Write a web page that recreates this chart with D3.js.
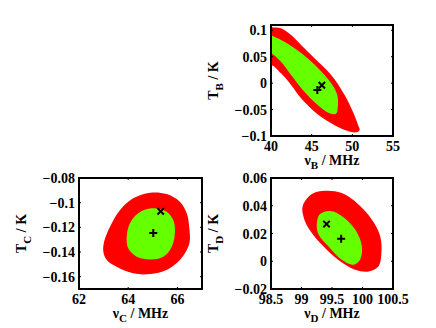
<!DOCTYPE html>
<html>
<head>
<meta charset="utf-8">
<script src="https://cdn.jsdelivr.net/npm/d3@7"></script>
<style>
  body { margin: 0; background: #fff; }
  svg { display: block; }
  text { font-family: "Liberation Serif", "Times New Roman", serif; font-weight: bold; fill: #000; }
</style>
</head>
<body>
<div id="chart"></div>
<script>
// confidence regions, outlines in data units [nu (MHz), T (K)]
const redB = [[40, 0.1068], [41.23, 0.1037], [42.47, 0.091], [43.7, 0.072], [45.35, 0.047], [47.4, 0.0154],
  [49.05, -0.0224], [50.07, -0.054], [50.7, -0.079], [50.9, -0.0886], [50.5, -0.093], [49.05, -0.0886],
  [47.4, -0.076], [45.35, -0.054], [43.7, -0.0287], [42.47, -0.0035], [41.23, 0.0186], [40, 0.034],
  [39, 0.02], [39, 0.12]];
const greenB = [[40, 0.091], [41.23, 0.0816], [42.9, 0.066], [44.5, 0.047], [46.2, 0.0216], [47.4, 0.0],
  [48.15, -0.0224], [48.2, -0.0476], [48.0, -0.058], [47.2, -0.057], [45.75, -0.0414], [44.1, -0.0162],
  [42.47, 0.0154], [41.23, 0.0406], [40, 0.0565], [39, 0.06], [39, 0.1]];
const redC = [[64.89, -0.0919], [65.56, -0.093], [66.1, -0.0992], [66.38, -0.1086], [66.48, -0.1195],
  [66.5, -0.1317], [66.38, -0.1384], [66.1, -0.1465], [65.56, -0.1546], [64.89, -0.1579], [64.2, -0.1573],
  [63.53, -0.152], [63.13, -0.1465], [62.99, -0.1398], [63.02, -0.1317], [63.26, -0.1195], [63.67, -0.106],
  [64.2, -0.0965]];
const greenC = [[64.96, -0.1046], [65.56, -0.1073], [65.83, -0.114], [65.9, -0.1235], [65.77, -0.1357],
  [65.43, -0.1438], [64.89, -0.146], [64.35, -0.1438], [64.0, -0.137], [63.94, -0.1276], [64.07, -0.1167],
  [64.41, -0.1086]];
const redD = [[99.02, 0.0399], [99.17, 0.0484], [99.39, 0.0508], [99.66, 0.0491], [99.93, 0.0411],
  [100.15, 0.0302], [100.29, 0.018], [100.31, 0.006], [100.26, -0.0038], [100.1, -0.0074], [99.88, -0.0062],
  [99.6, 0.0011], [99.33, 0.012], [99.11, 0.0241], [99.03, 0.0326]];
const greenD = [[99.25, 0.0265], [99.3, 0.0338], [99.47, 0.0362], [99.66, 0.0326], [99.88, 0.0229],
  [99.99, 0.0108], [99.96, 0.0011], [99.85, -0.0025], [99.66, 0.0011], [99.44, 0.0108], [99.28, 0.0193]];

// best fit (+) and true value (x)
const plusB = [45.7, -0.013], crossB = [46.25, -0.004];
const plusC = [65.02, -0.1245], crossC = [65.32, -0.107];
const plusD = [99.65, 0.0162], crossD = [99.41, 0.0268];

const xTicksB = [40, 45, 50, 55], yTicksB = [-0.1, -0.05, 0, 0.05, 0.1];
const xTicksC = [62, 64, 66], yTicksC = [-0.16, -0.14, -0.12, -0.1, -0.08];
const xTicksD = [98.5, 99, 99.5, 100, 100.5], yTicksD = [-0.02, 0, 0.02, 0.04, 0.06];

const svg = d3.select('#chart').append('svg')
  .attr('width', 436)
  .attr('height', 328);

function fmt(d) {
  return String(+d.toFixed(4)).replace('-', '\u2212');
}

function renderPanel(id, box, xDomain, yDomain, xTicks, yTicks, red, green, plus, cross, sub) {
  const x = d3.scaleLinear().domain(xDomain).range([box.left, box.right]);
  const y = d3.scaleLinear().domain(yDomain).range([box.bottom, box.top]);

  svg.append('clipPath').attr('id', 'clip' + id)
    .append('rect')
    .attr('x', box.left).attr('y', box.top)
    .attr('width', box.right - box.left).attr('height', box.bottom - box.top);

  const line = d3.line()
    .x(d => x(d[0]))
    .y(d => y(d[1]))
    .curve(d3.curveCatmullRomClosed.alpha(0.5));

  const g = svg.append('g').attr('clip-path', `url(#clip${id})`);
  g.append('path').attr('d', line(red)).style('fill', '#ff0000');
  g.append('path').attr('d', line(green)).style('fill', '#66ff00');

  // markers
  const s = 4;
  g.append('path')
    .attr('d', `M${x(plus[0]) - s},${y(plus[1])}h${2 * s}M${x(plus[0])},${y(plus[1]) - s}v${2 * s}`)
    .style('stroke', '#000').style('stroke-width', 2).style('fill', 'none');
  const c = 3.2;
  g.append('path')
    .attr('d', `M${x(cross[0]) - c},${y(cross[1]) - c}l${2 * c},${2 * c}M${x(cross[0]) - c},${y(cross[1]) + c}l${2 * c},${-2 * c}`)
    .style('stroke', '#000').style('stroke-width', 2).style('fill', 'none');

  // ticks pointing inwards
  const tk = svg.append('g').style('stroke', '#000').style('stroke-width', 1);
  xTicks.forEach(t => {
    tk.append('line').attr('x1', x(t)).attr('x2', x(t)).attr('y1', box.bottom).attr('y2', box.bottom - 2);
    tk.append('line').attr('x1', x(t)).attr('x2', x(t)).attr('y1', box.top).attr('y2', box.top + 2);
  });
  yTicks.forEach(t => {
    tk.append('line').attr('y1', y(t)).attr('y2', y(t)).attr('x1', box.left).attr('x2', box.left + 2);
    tk.append('line').attr('y1', y(t)).attr('y2', y(t)).attr('x1', box.right).attr('x2', box.right - 2);
  });

  svg.append('rect')
    .attr('x', box.left).attr('y', box.top)
    .attr('width', box.right - box.left).attr('height', box.bottom - box.top)
    .style('fill', 'none').style('stroke', '#000').style('stroke-width', 2);

  svg.append('g').selectAll('text').data(xTicks).join('text')
    .attr('x', d => x(d))
    .attr('y', box.bottom + 15)
    .attr('text-anchor', 'middle')
    .style('font-size', '14px')
    .text(fmt);

  svg.append('g').selectAll('text').data(yTicks).join('text')
    .attr('x', box.left - 4)
    .attr('y', d => y(d) + 5)
    .attr('text-anchor', 'end')
    .style('font-size', '14px')
    .text(fmt);

  // axis titles
  const xl = svg.append('text')
    .attr('x', (box.left + box.right) / 2)
    .attr('y', box.bottom + 29)
    .attr('text-anchor', 'middle')
    .style('font-size', '14px');
  xl.append('tspan').text('\u03bd');
  xl.append('tspan').attr('dy', 4).style('font-size', '11px').text(sub);
  xl.append('tspan').attr('dy', -4).text(' / MHz');

  const cy = (box.top + box.bottom) / 2;
  const yl = svg.append('text')
    .attr('transform', `translate(${box.left - 53},${cy}) rotate(-90)`)
    .attr('text-anchor', 'middle')
    .style('font-size', '14px');
  yl.append('tspan').text('T');
  yl.append('tspan').attr('dy', 5).style('font-size', '11px').text(sub);
  yl.append('tspan').attr('dy', -5).text(' / K');
}

renderPanel('B', {left: 271, right: 393, top: 25, bottom: 136}, [40, 55], [-0.1, 0.11],
  xTicksB, yTicksB, redB, greenB, plusB, crossB, 'B');
renderPanel('C', {left: 79, right: 202, top: 178, bottom: 289}, [62, 67], [-0.17, -0.08],
  xTicksC, yTicksC, redC, greenC, plusC, crossC, 'C');
renderPanel('D', {left: 271, right: 393, top: 178, bottom: 289}, [98.5, 100.5], [-0.02, 0.06],
  xTicksD, yTicksD, redD, greenD, plusD, crossD, 'D');
</script>
</body>
</html>
